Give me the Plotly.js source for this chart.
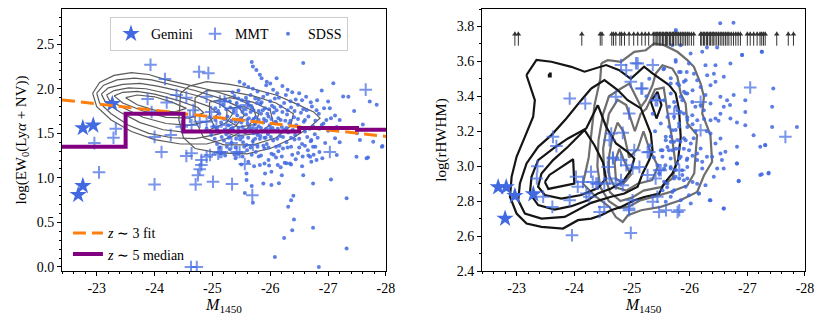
<!DOCTYPE html>
<html><head><meta charset="utf-8">
<script src="https://cdn.plot.ly/plotly-3.0.1.min.js"></script>
<style>html,body{margin:0;padding:0;background:#fff}#chart{width:830px;height:319px}</style>
</head><body><div id="chart"></div>
<script>
// ---------- tick labels ----------
var xTickVals = [-23, -24, -25, -26, -27, -28];
var xTickText = ['-23', '-24', '-25', '-26', '-27', '-28'];

// ---------- LEFT PANEL: EW vs M1450 ----------
var gemLeftX = [-22.68, -22.76, -22.76, -22.94, -23.27];
var gemLeftY = [0.81, 0.91, 1.56, 1.59, 1.83];

var mmtLeftX = [-23.93,-24.77,-24.93,-24.18,-27.65,-23.88,-24.38,-24.55,-24.21,-23.95,-24.67,-24.98,-23.33,-23.29,-22.96,-24.47,-24.64,-24.28,-24.0,-25.33,-25.7,-24.12,-24.55,-24.64,-24.9,-25.1,-25.16,-25.42,-25.47,-24.81,-24.81,-24.78,-24.75,-24.71,-25.01,-25.34,-23.04,-24.0,-25.56,-25.69,-24.63,-24.73,-27.03,-24.96,-25.13,-25.13,-25.42,-25.59,-25.24,-24.9,-24.61,-24.78,-25.07,-24.9,-25.21];
var mmtLeftY = [2.27,2.19,2.175,2.11,1.99,1.885,1.93,1.90,1.845,1.74,1.76,1.74,1.55,1.45,1.39,1.575,1.594,1.48,1.46,1.39,1.37,1.29,1.245,1.275,1.237,1.27,1.29,1.29,1.29,1.2,1.144,1.096,1.03,0.927,0.956,0.93,1.062,0.927,1.155,0.806,0.0,0.0,1.29,1.256,1.29,1.856,1.781,1.819,1.594,1.631,1.687,1.63,1.575,1.91,1.856];

var sdssLeftX = [
 -25.68,-26.57,-25.76,-25.70,-25.82,-25.94,-25.47,-26.11,-25.85,-26.89,-27.09,-27.35,-27.26,-27.72,-27.84,-27.0,-27.03,-27.2,-27.12,-26.89,-27.12,-27.2,-26.71,-26.74,-27.94,-27.55,-27.78,-27.93,-27.49,-27.69,-27.665,-27.32,-27.32,-26.74,-26.84,-26.08,-26.24,-26.38,-26.41,-26.4,-26.36,-26.31,-26.74,-27.05,-26.57,-26.2,-26.02,-25.91,-25.88,-26.02,-26.15,-25.59,-25.56,-25.70,-25.68,-25.59,-26.28,-26.13,-26.36,-26.71,-26.8,-27.15,-26.69,-25.82,-25.98,-27.5,-27.6,-27.45,
 -25.45,-25.62,-25.78,-25.93,-26.05,-26.21,-26.38,-25.55,-26.12,
 -25.22,-25.38,-25.51,-25.66,-25.74,-25.88,-26.0,-26.15,-26.27,-26.44,-26.62,-26.81,-25.95,-25.58,
 -25.05,-25.18,-25.31,-25.42,-25.55,-25.63,-25.71,-25.83,-25.91,-26.03,-26.11,-26.24,-26.36,-26.48,-26.57,-26.72,-26.93,-25.47,-25.77,-26.18,
 -24.95,-25.12,-25.26,-25.37,-25.49,-25.58,-25.66,-25.75,-25.84,-25.97,-26.06,-26.14,-26.29,-26.41,-26.53,-26.66,-26.84,-27.05,-25.43,-25.89,-26.21,
 -25.02,-25.15,-25.28,-25.4,-25.52,-25.61,-25.69,-25.8,-25.88,-25.99,-26.09,-26.2,-26.33,-26.45,-26.58,-26.74,-26.92,-27.15,-25.35,-25.73,-26.26,
 -24.98,-25.1,-25.24,-25.36,-25.46,-25.57,-25.65,-25.78,-25.86,-25.96,-26.07,-26.17,-26.31,-26.43,-26.6,-26.77,-27.0,-25.3,-25.71,-26.24,
 -25.08,-25.2,-25.33,-25.48,-25.59,-25.7,-25.82,-25.94,-26.05,-26.16,-26.28,-26.42,-26.55,-26.7,-26.95,-25.53,-25.88,
 -25.15,-25.3,-25.45,-25.6,-25.75,-25.9,-26.02,-26.14,-26.3,-26.48,-26.65,-26.85,
 -25.4,-25.62,-25.8,-25.97,-26.1,-26.25,-26.44,-26.66,-26.9,
 -25.6,-25.8,-26.0,-25.9,-26.1,-25.5,-25.7,-25.95,-26.15,-25.85,
 -25.35,-25.7,-26.0,-26.3,-26.5,
 -25.3,-25.45,-25.62,-25.8,-26.08,-26.35,-26.55,-26.7,
 -25.1,-25.24,-25.37,-25.52,-25.68,-25.87,-25.98,-26.07,-26.3,-26.42,-26.63,-26.8,
 -25.05,-25.2,-25.33,-25.46,-25.63,-25.71,-25.8,-25.93,-26.02,-26.18,-26.35,-26.48,-26.6,-26.78,-26.97,
 -24.9,-25.08,-25.21,-25.32,-25.45,-25.56,-25.64,-25.76,-25.84,-25.93,-26.04,-26.13,-26.28,-26.39,-26.52,-26.68,-26.85,
 -25.04,-25.16,-25.28,-25.41,-25.52,-25.62,-25.74,-25.83,-25.92,-26.01,-26.12,-26.22,-26.36,-26.5,-26.64,-26.82,
 -25.12,-25.25,-25.4,-25.55,-25.66,-25.78,-25.97,-26.1,-26.22,-26.36,-26.5,-26.6,-26.78,
 -25.22,-25.38,-25.52,-25.68,-25.84,-26.06,-26.2,-26.38,-26.56,-26.75,
 -25.5,-25.72,-25.9,-26.18,-26.34,-26.55];
var sdssLeftY = [
 2.30,2.288,2.21,2.25,2.156,2.08,2.08,2.119,2.119,1.98,2.062,1.91,1.912,1.856,1.82,1.856,1.781,1.65,1.70,1.594,1.444,1.40,1.425,1.35,1.357,1.425,1.406,1.35,1.237,1.23,1.219,0.77,0.207,0.44,0.0,0.112,0.326,0.413,0.533,0.80,0.75,0.675,0.938,0.983,1.03,1.03,1.07,1.05,0.938,0.92,0.94,1.05,0.83,0.72,0.908,0.975,1.163,1.144,1.15,1.181,1.2,1.256,1.237,1.144,1.14,1.5,1.6,1.75,
 1.98,2.02,1.97,2.04,1.99,2.03,1.96,2.05,1.95,
 1.88,1.92,1.87,1.93,1.89,1.91,1.86,1.90,1.93,1.88,1.91,1.87,1.94,1.90,
 1.78,1.82,1.79,1.84,1.77,1.81,1.76,1.83,1.78,1.81,1.76,1.84,1.79,1.82,1.77,1.80,1.78,1.80,1.84,1.80,
 1.68,1.72,1.69,1.73,1.67,1.71,1.74,1.68,1.72,1.69,1.73,1.67,1.71,1.68,1.73,1.69,1.72,1.67,1.70,1.66,1.74,
 1.58,1.62,1.59,1.63,1.57,1.61,1.64,1.58,1.62,1.59,1.63,1.57,1.61,1.59,1.63,1.58,1.61,1.57,1.56,1.60,1.64,
 1.48,1.52,1.49,1.53,1.47,1.51,1.54,1.48,1.52,1.49,1.53,1.47,1.51,1.48,1.52,1.49,1.53,1.46,1.50,1.54,
 1.38,1.42,1.39,1.43,1.37,1.41,1.44,1.38,1.42,1.36,1.40,1.43,1.38,1.41,1.39,1.40,1.36,
 1.28,1.32,1.27,1.31,1.29,1.33,1.27,1.30,1.34,1.28,1.31,1.29,
 1.22,1.18,1.24,1.20,1.23,1.17,1.21,1.25,1.22,
 1.65,1.75,1.55,1.45,1.62,1.62,1.56,1.72,1.52,1.85,
 1.96,2.0,2.06,1.99,1.95,
 1.86,1.89,1.85,1.88,1.89,1.86,1.87,1.85,
 1.75,1.77,1.76,1.74,1.79,1.76,1.77,1.79,1.76,1.75,1.76,1.76,
 1.65,1.66,1.64,1.65,1.67,1.66,1.65,1.64,1.66,1.65,1.64,1.66,1.65,1.64,1.65,
 1.55,1.56,1.54,1.55,1.56,1.54,1.57,1.55,1.56,1.55,1.56,1.55,1.56,1.54,1.56,1.55,1.55,
 1.44,1.46,1.45,1.44,1.46,1.45,1.44,1.47,1.45,1.46,1.44,1.46,1.45,1.44,1.46,1.45,
 1.34,1.35,1.34,1.35,1.34,1.35,1.34,1.35,1.33,1.35,1.34,1.36,1.35,
 1.25,1.26,1.24,1.26,1.25,1.26,1.24,1.26,1.24,1.26,
 1.15,1.13,1.16,1.12,1.16,1.13];

var fitX = [-22.4, -28];
var fitY = [1.875, 1.465];
var medianX = [-22.4, -23.5, -24.5, -25.5, -26.5, -27.5, -28];
var medianY = [1.35, 1.72, 1.52, 1.52, 1.56, 1.54, 1.54];

// grey density contours (left)
var leftContX = [
 [-22.93,-23.05,-23.3,-23.6,-23.9,-24.2,-24.6,-25.0,-25.4,-25.7,-25.75,-25.6,-25.3,-24.9,-24.45,-24.0,-23.6,-23.25,-23.0,-22.93],
 [-23.0,-23.12,-23.35,-23.65,-23.95,-24.3,-24.7,-25.1,-25.45,-25.55,-25.4,-25.1,-24.7,-24.3,-23.9,-23.55,-23.25,-23.05,-23.0],
 [-23.08,-23.2,-23.45,-23.75,-24.05,-24.4,-24.8,-25.15,-25.35,-25.25,-24.95,-24.55,-24.15,-23.75,-23.4,-23.15,-23.08],
 [-23.17,-23.3,-23.55,-23.85,-24.2,-24.6,-24.95,-25.1,-24.95,-24.6,-24.2,-23.8,-23.45,-23.22,-23.17],
 [-23.3,-23.45,-23.7,-24.0,-24.4,-24.75,-24.85,-24.6,-24.2,-23.8,-23.45,-23.3],
 [-23.5,-23.7,-24.0,-24.3,-24.55,-24.35,-24.0,-23.7,-23.5],
 [-24.45,-24.6,-24.9,-25.3,-25.7,-26.1,-26.45,-26.75,-26.86,-26.7,-26.4,-26.0,-25.6,-25.1,-24.7,-24.5,-24.42,-24.45],
 [-24.7,-24.9,-25.3,-25.7,-26.1,-26.4,-26.35,-26.1,-25.7,-25.2,-24.85,-24.7,-24.7],
 [-24.95,-25.3,-25.7,-26.0,-26.05,-25.8,-25.4,-25.05,-24.95,-24.95],
 [-25.25,-25.55,-25.8,-25.75,-25.45,-25.25,-25.25]];
var leftContY = [
 [1.95,2.07,2.15,2.18,2.16,2.10,2.04,1.98,1.90,1.80,1.70,1.55,1.45,1.38,1.38,1.43,1.52,1.65,1.80,1.95],
 [1.95,2.04,2.10,2.12,2.10,2.04,1.98,1.90,1.80,1.70,1.58,1.49,1.44,1.45,1.50,1.59,1.72,1.84,1.95],
 [1.94,2.01,2.05,2.06,2.03,1.98,1.91,1.82,1.72,1.62,1.54,1.51,1.54,1.62,1.74,1.85,1.94],
 [1.93,1.98,2.01,2.00,1.95,1.88,1.80,1.72,1.64,1.59,1.61,1.68,1.79,1.87,1.93],
 [1.92,1.96,1.97,1.94,1.87,1.79,1.73,1.67,1.68,1.75,1.84,1.92],
 [1.90,1.93,1.91,1.85,1.78,1.74,1.76,1.82,1.90],
 [1.95,2.03,2.08,2.05,2.0,1.93,1.83,1.74,1.67,1.58,1.45,1.33,1.27,1.28,1.33,1.45,1.65,1.95],
 [1.90,1.98,1.97,1.92,1.84,1.72,1.58,1.45,1.37,1.37,1.45,1.65,1.90],
 [1.85,1.90,1.85,1.76,1.62,1.50,1.47,1.55,1.70,1.85],
 [1.78,1.80,1.72,1.60,1.57,1.65,1.78]];

// ---------- RIGHT PANEL: rHWHM vs M1450 ----------
var gemRightX = [-22.68, -22.82, -22.80, -22.97, -23.29];
var gemRightY = [2.88, 2.88, 2.70, 2.83, 2.84];

var mmtRightX = [-23.92,-24.19,-23.63,-23.69,-23.36,-23.35,-23.46,-23.62,-23.92,-24.03,-24.15,-24.29,-24.32,-24.06,-24.21,-24.26,-24.41,-24.44,-23.96,-24.81,-25.07,-25.36,-24.90,-24.98,-25.18,-24.72,-24.95,-25.44,-24.64,-24.84,-24.61,-25.04,-25.30,-24.67,-24.81,-25.13,-24.58,-24.90,-24.61,-24.81,-24.38,-24.52,-24.72,-24.84,-25.27,-25.47,-25.41,-25.36,-25.44,-25.47,-25.01,-24.52,-24.95,-25.79,-24.98,-27.66,-27.05,-25.73,-26.19,-26.19,-25.41,-25.16,-25.10,-24.67,-25.01,-25.27,-25.5,-25.82,-25.59,-25.82,-24.95];
var mmtRightY = [3.388,3.359,3.168,3.115,3.0,2.93,2.825,2.767,2.805,2.939,2.91,2.968,2.91,2.882,2.844,2.825,2.90,2.738,2.605,3.579,3.589,3.579,3.55,3.484,3.445,3.398,3.302,3.378,3.187,3.191,3.149,3.092,3.082,3.044,3.035,2.996,2.996,3.006,2.93,2.92,2.901,2.901,2.901,2.891,2.949,2.977,2.93,2.796,2.825,2.738,2.805,2.767,2.748,2.738,2.618,3.168,3.451,3.301,3.368,3.206,3.378,3.445,3.588,3.05,2.987,3.08,2.977,2.977,2.748,2.748,2.758];

var sdssRightX = [
 -25.76,-25.70,-25.845,-26.017,-26.218,-26.477,-26.30,-25.988,-25.758,-26.275,-26.448,-26.707,-26.908,-27.252,-25.546,-25.816,-25.95,-26.074,-26.304,-26.42,-26.592,-26.132,-26.448,-25.931,-25.672,-25.816,-26.19,-26.362,-26.275,-26.764,-26.534,-26.649,-26.70,-26.592,-25.902,-25.96,-26.05,-25.672,-25.557,-25.73,-25.873,-26.046,-26.10,-26.19,-26.247,-26.362,-26.965,-26.965,-26.534,-26.448,-26.707,-26.82,-26.50,-26.362,-26.25,-26.132,-26.046,-25.96,-25.845,-25.758,-25.816,-25.96,-26.05,-26.10,-25.701,-25.5,-26.30,-25.615,-26.965,-27.109,-26.362,
 -25.586,-25.67,-25.73,-25.84,-25.931,-26.02,-26.07,-26.19,-26.448,-26.534,-26.821,-27.224,-27.31,-25.528,-25.64,-25.76,-25.90,-25.99,-26.05,-26.13,-25.528,-25.67,-25.82,-25.96,-26.13,-26.218,-26.30,-26.39,-26.534,-26.62,-26.56,-26.477,-26.59,-26.821,-26.419,-26.85,-27.224,-27.367,-25.557,-25.67,-25.76,-25.873,-25.96,-26.05,-26.13,-26.218,-26.275,-25.988,-26.16,-26.35,-26.592,-25.82,-25.73,-25.557,-25.61,-25.70,
 -25.557,-25.758,-25.845,-25.672,-25.787,-25.90,-25.845,-25.93,-25.644,-25.787,-25.73,-25.90,-25.96,-25.644,-25.758,-25.816,-25.586,-25.672,-25.787,-25.90,-25.615,-25.5,-25.70,-25.816,-25.845,-25.95,-25.787,-25.672,-25.58,-25.442,-25.47,-25.758,-25.87,-25.96,-25.90,-25.615,-25.529,-25.73,-25.93,-25.672,-25.586,-25.845,
 -27.25,-27.37,-26.85,-26.82,-26.59,-26.36,-26.16,-26.02,-26.53,-26.76,-25.76,-26.91,-27.25,-27.45,-27.43,-27.86,-27.43,-27.31,
 -25.36,-25.40,-25.32,-25.38,-25.25,-25.30];
var sdssRightY = [
 3.77,3.693,3.693,3.645,3.655,3.68,3.68,3.588,3.598,3.578,3.578,3.588,3.636,3.655,3.555,3.54,3.54,3.53,3.521,3.53,3.512,3.492,3.483,3.492,3.473,3.464,3.454,3.464,3.407,3.407,3.397,3.378,3.35,3.34,3.426,3.416,3.435,3.416,3.378,3.368,3.378,3.368,3.34,3.349,3.32,3.359,3.378,3.311,3.301,3.273,3.273,3.25,3.26,3.263,3.27,3.263,3.292,3.28,3.311,3.34,3.244,3.225,3.24,3.20,3.206,3.244,3.20,3.282,3.235,3.177,3.187,
 3.149,3.17,3.14,3.14,3.149,3.13,3.16,3.102,3.13,3.159,3.111,3.111,3.121,3.092,3.092,3.10,3.10,3.092,3.06,3.073,3.054,3.044,3.044,3.044,3.035,3.025,3.054,3.054,3.073,3.083,3.035,2.987,2.987,3.016,2.939,2.914,2.949,2.958,2.987,2.996,2.978,2.949,2.93,2.91,2.90,2.987,2.891,2.834,2.843,2.805,2.758,2.93,2.93,2.911,2.88,2.853,
 3.56,3.608,3.54,3.503,3.474,3.483,3.398,3.417,3.34,3.321,3.283,3.302,3.264,3.226,3.207,3.226,3.168,3.14,3.15,3.16,3.11,3.092,3.092,3.102,3.054,3.035,3.016,2.987,3.006,3.006,2.958,2.939,2.977,2.996,2.92,2.901,2.863,2.863,2.882,2.825,2.796,2.805,
 2.954,2.962,2.916,3.015,2.758,2.805,2.843,2.786,3.818,3.821,3.78,3.636,3.655,3.445,3.34,3.225,3.225,3.12,
 3.30,3.20,3.12,3.05,3.40,3.50];

// lower limits (arrows) at the top of the right panel
var limitX = [-22.97,-23.03,-24.13,-24.45,-24.48,-24.65,-24.68,-24.72,-24.79,-24.82,-24.87,-24.95,-25.03,-25.10,-25.17,-25.23,-25.29,
 -25.37,-25.40,-25.43,-25.45,-25.48,-25.50,-25.53,-25.55,-25.58,-25.60,-25.62,-25.65,-25.67,-25.70,-25.72,-25.75,-25.78,-25.81,-25.84,-25.87,-25.90,-25.93,-25.96,-25.99,-26.03,-26.07,
 -26.19,-26.21,-26.24,-26.26,-26.29,-26.31,-26.34,-26.36,-26.39,-26.41,-26.44,-26.47,-26.50,-26.53,-26.56,-26.59,-26.62,-26.65,-26.68,-26.72,-26.76,-26.80,-26.84,-26.88,
 -27.0,-27.05,-27.11,-27.17,-27.22,-27.25,-27.28,-27.31,-27.51,-27.71,-27.80];
var limitLevel = 3.73;

// black contours (right)
var blackContX = [
 [-23.17,-23.344,-23.603,-23.948,-24.178,-24.35,-24.552,-24.78,-24.98,-25.21,-25.356,-25.644,-25.758,-25.816,-25.845,-25.799,-25.701,-25.557,-25.471,-25.213,-25.04,-24.81,-24.638,-24.465,-24.293,-24.063,-23.804,-23.431,-23.172,-22.999,-22.885,-22.913,-22.999,-23.143,-23.287,-23.316,-23.17],
 [-24.293,-24.523,-24.753,-24.925,-25.155,-25.241,-25.327,-25.356,-25.299,-25.184,-25.098,-24.868,-24.638,-24.293,-24.063,-23.833,-23.431,-23.143,-23.028,-23.057,-23.172,-23.373,-23.603,-23.862,-24.12,-24.293],
 [-24.408,-24.552,-24.724,-24.925,-25.04,-24.983,-24.839,-24.638,-24.408,-24.235,-23.948,-23.66,-23.373,-23.23,-23.258,-23.373,-23.632,-23.89,-24.207,-24.408],
 [-24.178,-24.35,-24.5,-24.55,-24.41,-24.12,-23.775,-23.488,-23.373,-23.431,-23.632,-23.89,-24.178],
 [-23.49,-23.57,-23.98,-24.0,-23.55,-23.49],
 [-25.327,-25.442,-25.511,-25.425,-25.327],
 [-23.56,-23.59,-23.59,-23.56,-23.56]];
var blackContY = [
 [3.522,3.608,3.598,3.569,3.541,3.56,3.579,3.55,3.50,3.57,3.531,3.464,3.417,3.321,3.168,3.035,2.958,2.901,2.844,2.824,2.805,2.767,2.748,2.719,2.70,2.691,2.643,2.653,2.672,2.729,2.824,2.939,3.054,3.168,3.283,3.378,3.522],
 [3.445,3.493,3.436,3.378,3.331,3.264,3.187,3.092,3.035,2.958,2.882,2.844,2.825,2.79,2.748,2.71,2.70,2.729,2.805,2.901,3.016,3.111,3.178,3.273,3.378,3.445],
 [3.35,3.226,3.13,3.082,3.044,2.977,2.91,2.872,2.844,2.805,2.771,2.752,2.777,2.844,2.939,3.035,3.101,3.159,3.216,3.35],
 [3.207,3.12,3.02,2.93,2.875,2.835,2.815,2.835,2.882,2.958,3.035,3.111,3.207],
 [2.91,2.95,3.04,2.90,2.87,2.91],
 [3.369,3.426,3.35,3.273,3.369],
 [3.530,3.530,3.514,3.514,3.530]];

// grey contours (right)
var greyContX = [
 [-24.47,-24.58,-24.81,-25.04,-25.24,-25.385,-25.557,-25.787,-25.96,-26.074,-26.19,-26.247,-26.218,-26.304,-26.36,-26.39,-26.25,-26.13,-25.84,-25.5,-25.16,-24.93,-24.84,-24.72,-24.61,-24.38,-24.15,-24.25,-24.3,-24.35,-24.45,-24.47],
 [-24.81,-24.954,-25.069,-25.155,-25.241,-25.356,-25.413,-25.528,-25.701,-25.787,-25.845,-25.931,-25.96,-26.13,-26.10,-26.08,-25.96,-25.67,-25.385,-25.155,-24.95,-24.78,-24.6,-24.45,-24.4,-24.42,-24.5,-24.6,-24.81],
 [-24.6,-24.75,-24.9,-25.05,-25.15,-25.25,-25.4,-25.55,-25.62,-25.7,-25.76,-25.7,-25.5,-25.2,-25.0,-24.8,-24.62,-24.52,-24.5,-24.55,-24.6],
 [-24.65,-24.75,-24.85,-24.95,-25.1,-25.2,-25.3,-25.45,-25.35,-25.1,-24.9,-24.7,-24.6,-24.6,-24.65],
 [-24.7,-24.78,-24.88,-24.98,-24.85,-24.72,-24.7]];
var greyContY = [
 [3.59,3.607,3.598,3.655,3.664,3.703,3.693,3.655,3.607,3.569,3.473,3.397,3.301,3.225,3.178,3.025,2.948,2.853,2.805,2.767,2.748,2.719,2.681,2.709,2.767,2.824,2.90,3.05,3.2,3.35,3.5,3.59],
 [3.445,3.473,3.397,3.34,3.378,3.464,3.531,3.578,3.559,3.512,3.416,3.359,3.244,3.178,3.06,2.96,2.89,2.853,2.825,2.806,2.77,2.76,2.80,2.88,3.0,3.15,3.3,3.40,3.445],
 [3.30,3.38,3.35,3.20,3.30,3.33,3.44,3.45,3.30,3.15,3.0,2.93,2.88,2.86,2.82,2.80,2.85,2.95,3.1,3.2,3.30],
 [3.15,3.25,3.2,3.05,3.1,3.2,3.1,3.0,2.92,2.9,2.86,2.88,2.95,3.05,3.15],
 [3.02,3.10,3.02,2.95,2.90,2.93,3.02]];

// ---------- styling ----------
var BLUE = '#4169e1';
var FONT = 'Liberation Serif, Times New Roman, serif';
var traces = [];

function addContours(xs, ys, xa, ya, color, width) {
  for (var i = 0; i < xs.length; i++) {
    traces.push({x: xs[i], y: ys[i], xaxis: xa, yaxis: ya, type: 'scatter', mode: 'lines',
      line: {color: color, width: width}, showlegend: false, hoverinfo: 'skip'});
  }
}
var crossMarker = {symbol: 'cross-thin', size: 9, color: BLUE, opacity: 0.7, line: {color: BLUE, width: 2}};
var dotMarker = {symbol: 'circle', size: 4, color: BLUE, opacity: 0.85};
var starMarker = {symbol: 'star', size: 13, color: BLUE, line: {width: 0}};

// left panel
addContours(leftContX, leftContY, 'x', 'y', '#5a5a5a', 1.2);
traces.push({x: sdssLeftX, y: sdssLeftY, xaxis: 'x', yaxis: 'y', type: 'scatter', mode: 'markers',
  name: 'SDSS', legendrank: 3, marker: dotMarker});
traces.push({x: mmtLeftX, y: mmtLeftY, xaxis: 'x', yaxis: 'y', type: 'scatter', mode: 'markers',
  name: 'MMT', legendrank: 2, legendwidth: 28, marker: crossMarker});
traces.push({x: gemLeftX, y: gemLeftY, xaxis: 'x', yaxis: 'y', type: 'scatter', mode: 'markers',
  name: 'Gemini', legendrank: 1, legendwidth: 39, marker: starMarker});
traces.push({x: fitX, y: fitY, xaxis: 'x', yaxis: 'y', type: 'scatter', mode: 'lines',
  name: '<i>z</i> ∼ 3 fit', legend: 'legend2', legendrank: 1,
  line: {color: '#ff7f0e', width: 3, dash: '13px,6px'}});
traces.push({x: medianX, y: medianY, xaxis: 'x', yaxis: 'y', type: 'scatter', mode: 'lines',
  name: '<i>z</i> ∼ 5 median', legend: 'legend2', legendrank: 2,
  line: {color: '#800080', width: 4, shape: 'hv'}});

// right panel
addContours(greyContX, greyContY, 'x2', 'y2', '#6e6e6e', 2.2);
addContours(blackContX, blackContY, 'x2', 'y2', '#151515', 2.2);
traces.push({x: sdssRightX, y: sdssRightY, xaxis: 'x2', yaxis: 'y2', type: 'scatter', mode: 'markers',
  showlegend: false, marker: dotMarker});
traces.push({x: mmtRightX, y: mmtRightY, xaxis: 'x2', yaxis: 'y2', type: 'scatter', mode: 'markers',
  showlegend: false, marker: crossMarker});
traces.push({x: gemRightX, y: gemRightY, xaxis: 'x2', yaxis: 'y2', type: 'scatter', mode: 'markers',
  showlegend: false, marker: starMarker});
var limitShaftY = limitX.map(function () { return limitLevel; });
var limitHeadY = limitX.map(function () { return limitLevel + 0.025; });
traces.push({x: limitX, y: limitShaftY, xaxis: 'x2', yaxis: 'y2', type: 'scatter', mode: 'markers',
  showlegend: false, marker: {symbol: 'line-ns', size: 10, color: '#333', line: {color: '#333', width: 1}}});
traces.push({x: limitX, y: limitHeadY, xaxis: 'x2', yaxis: 'y2', type: 'scatter', mode: 'markers',
  showlegend: false, marker: {symbol: 'triangle-up', size: 5, color: '#333', line: {width: 0}}});

var axisCommon = {
  showline: true, mirror: true, linecolor: '#000', linewidth: 1,
  ticks: 'outside', ticklen: 4, tickwidth: 1, tickcolor: '#000',
  showgrid: false, zeroline: false,
  tickfont: {family: FONT, size: 14, color: '#000'}
};
function ax(extra) { return Object.assign({}, axisCommon, extra); }

var layout = {
  width: 830, height: 319,
  margin: {l: 62, r: 25, t: 9, b: 48},
  paper_bgcolor: '#fff', plot_bgcolor: '#fff',
  font: {family: FONT, size: 14, color: '#000'},
  xaxis: ax({domain: [0, 0.436], range: [-22.4, -28], tickvals: xTickVals, ticktext: xTickText,
    minor: {ticks: 'outside', dtick: 0.2, tick0: 0, ticklen: 2, tickcolor: '#000'},
    title: {text: '<i>M</i><sub>1450</sub>', font: {family: FONT, size: 16}, standoff: 2}}),
  yaxis: ax({domain: [0, 1], range: [-0.045, 2.895], dtick: 0.5, tick0: 0, tickformat: '.1f',
    minor: {ticks: 'outside', dtick: 0.1, tick0: 0, ticklen: 2, tickcolor: '#000'},
    title: {text: 'log(EW<sub>0</sub>(Ly<i>α</i> + NV))', font: {family: FONT, size: 15}, standoff: 6}}),
  xaxis2: ax({domain: [0.5653, 1], anchor: 'y2', range: [-22.4, -28], tickvals: xTickVals, ticktext: xTickText,
    minor: {ticks: 'outside', dtick: 0.2, tick0: 0, ticklen: 2, tickcolor: '#000'},
    title: {text: '<i>M</i><sub>1450</sub>', font: {family: FONT, size: 16}, standoff: 2}}),
  yaxis2: ax({domain: [0, 1], anchor: 'x2', range: [2.4, 3.9], dtick: 0.2, tick0: 0, tickformat: '.1f',
    minor: {ticks: 'outside', dtick: 0.1, tick0: 0, ticklen: 2, tickcolor: '#000'},
    title: {text: 'log(rHWHM)', font: {family: FONT, size: 15}, standoff: 6}}),
  legend: {x: 0.0646, y: 0.969, xanchor: 'left', yanchor: 'top', orientation: 'h',
    bgcolor: 'rgba(255,255,255,0.85)', bordercolor: '#cccccc', borderwidth: 1,
    font: {family: FONT, size: 14}, itemwidth: 30, traceorder: 'normal'},
  legend2: {x: 0.008, y: 0.205, xanchor: 'left', yanchor: 'top', orientation: 'v',
    bgcolor: 'rgba(0,0,0,0)', borderwidth: 0, font: {family: FONT, size: 14}, itemwidth: 30}
};

Plotly.newPlot('chart', traces, layout, {staticPlot: true, displayModeBar: false});
</script></body></html>
